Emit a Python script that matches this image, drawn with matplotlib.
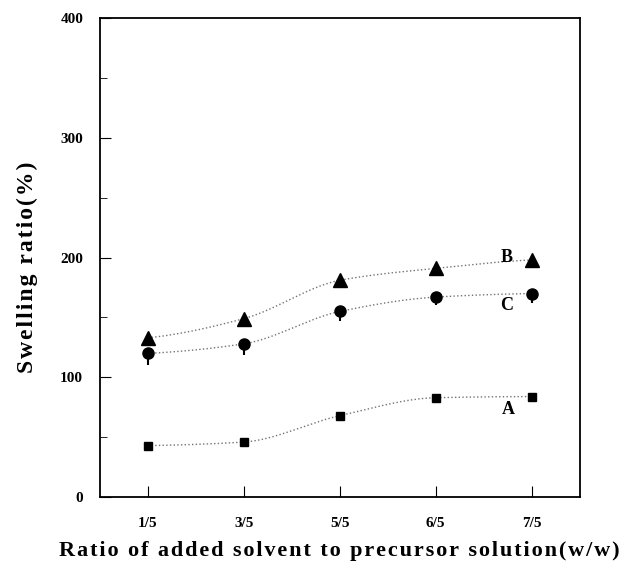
import numpy as np
import matplotlib
matplotlib.use("Agg")
import matplotlib.pyplot as plt

plt.rcParams['font.family'] = ['Liberation Serif', 'DejaVu Serif']
plt.rcParams['font.weight'] = 'bold'

# data
ratios = ['1/5', '3/5', '5/5', '6/5', '7/5']
swell_A = [43, 46, 68, 83, 84]
swell_B = [133, 149, 181, 191, 198]
swell_C = [120, 128, 155, 167, 170]
err_C = [10, 9, 8, 7, 8]

x = np.arange(len(ratios))


def pchip(xk, yk, xs):
    # monotone cubic hermite, used for the smooth dotted trend lines
    xk = np.asarray(xk, float)
    yk = np.asarray(yk, float)
    h = np.diff(xk)
    d = np.diff(yk) / h
    m = np.zeros_like(yk)
    for i in range(1, len(xk) - 1):
        if d[i - 1] * d[i] > 0:
            w1 = 2 * h[i] + h[i - 1]
            w2 = h[i] + 2 * h[i - 1]
            m[i] = (w1 + w2) / (w1 / d[i - 1] + w2 / d[i])
    m[0] = d[0] * 0.5
    m[-1] = d[-1] * 0.5
    idx = np.clip(np.searchsorted(xk, xs) - 1, 0, len(xk) - 2)
    t = (xs - xk[idx]) / h[idx]
    h00 = 2 * t**3 - 3 * t**2 + 1
    h10 = t**3 - 2 * t**2 + t
    h01 = -2 * t**3 + 3 * t**2
    h11 = t**3 - t**2
    return h00 * yk[idx] + h10 * h[idx] * m[idx] + h01 * yk[idx + 1] + h11 * h[idx] * m[idx + 1]


def spaced(s):
    return '\u200a'.join(s)


fig = plt.figure(figsize=(6.24, 5.63), dpi=100)
ax = fig.add_axes([0.160, 0.117, 0.769, 0.851])

xs = np.linspace(0, len(ratios) - 1, 300)
for ys in (swell_A, swell_B, swell_C):
    ax.plot(xs, pchip(x, ys, xs), ls=':', color='0.45', lw=1.0)

ax.plot(x, swell_A, 's', color='black', ms=6)
ax.plot(x, swell_B, '^', color='black', ms=9.5)
ax.errorbar(x, swell_C, yerr=[err_C, [0] * len(err_C)], fmt='o', color='black',
            ms=8, elinewidth=1.5, capsize=0)

ax.text(3.74, 200, 'B', fontsize=13, fontweight='bold', ha='center', va='center')
ax.text(3.74, 160, 'C', fontsize=13, fontweight='bold', ha='center', va='center')
ax.text(3.76, 73, 'A', fontsize=13, fontweight='bold', ha='center', va='center')

ax.set_xlim(-0.5, 4.5)
ax.set_ylim(0, 400)
ax.set_xticks(x)
ax.set_xticklabels(ratios, fontsize=11, fontweight='bold')
ax.set_yticks([0, 100, 200, 300, 400])
ax.set_yticks([50, 150, 250, 350], minor=True)
ax.tick_params(axis='y', which='major', labelsize=11, direction='in', length=8, pad=12)
ax.tick_params(axis='y', which='minor', direction='in', length=5)
ax.tick_params(axis='x', which='major', labelsize=11, direction='in', length=8, pad=14)
for lab in ax.get_yticklabels():
    lab.set_fontweight('bold')
for s in ax.spines.values():
    s.set_linewidth(1.3)

ax.set_ylabel(spaced('Swelling ratio(%)'), fontsize=17, fontweight='bold')
ax.yaxis.set_label_coords(-0.129, 0.48)
ax.set_xlabel(spaced('Ratio of added solvent to precursor solution(w/w)'),
              fontsize=16, fontweight='bold', labelpad=8)

fig.savefig('out.png', dpi=100)
